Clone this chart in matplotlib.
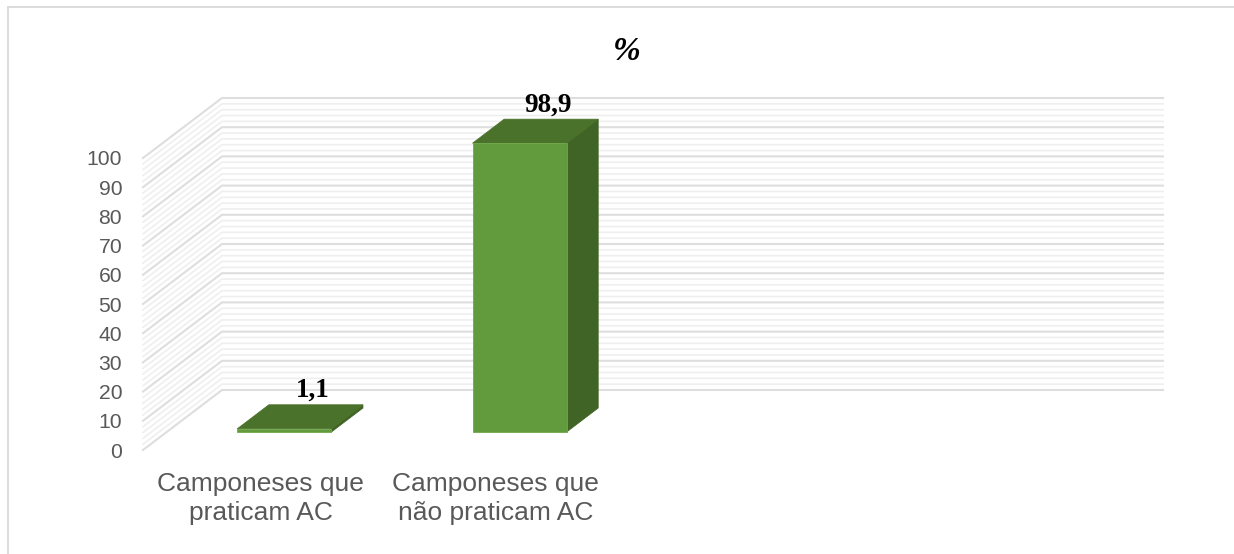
import matplotlib
matplotlib.use("Agg")
import matplotlib.pyplot as plt
from matplotlib.lines import Line2D
from matplotlib.patches import Polygon
import numpy as np

categories = ["Camponeses que\npraticam AC", "Camponeses que\nnão praticam AC"]
values = [1.1, 98.9]
value_labels = ["1,1", "98,9"]
y_ticks = [0, 10, 20, 30, 40, 50, 60, 70, 80, 90, 100]
title = "%"

W, H = 1234, 554
fig = plt.figure(figsize=(W / 100, H / 100), dpi=100, facecolor="white")
left, right, y0, y100 = 143, 1084, 450, 158
ax = fig.add_axes([left / W, 1 - y0 / H, (right - left) / W, (y0 - y100) / H])
ax.set_xlim(-0.5, 3.5)
ax.set_ylim(0, 100)
ax.patch.set_visible(False)
for s in ax.spines.values():
    s.set_visible(False)

# oblique projection of the 3-D chart: depth z in 0..1
DX = 79 / ((right - left) / 4)
DY = 60 / ((y0 - y100) / 100)


def proj(x, y, z):
    return (x + z * DX, y + z * DY)


MAJOR, MINOR = "#dedede", "#efefef"
for level in range(0, 101, 2):
    major = level % 10 == 0
    color, lw, zo = (MAJOR, 1.5, 2) if major else (MINOR, 1.2, 1)
    pts = [proj(-0.5, level, 0), proj(-0.5, level, 1), proj(3.5, level, 1)]
    ax.plot(*zip(*pts), color=color, lw=lw, zorder=zo, clip_on=False,
            solid_joinstyle="miter")

FRONT, TOP, SIDE = "#629a3e", "#4a722b", "#406426"
EDGE = "#6fa84a"
BAR_W = 94 / ((right - left) / 4)
Z1, Z2 = 0.30, 0.70
for i, v in enumerate(values):
    a, b = i - BAR_W / 2, i + BAR_W / 2
    faces = [
        ([proj(b, 0, Z1), proj(b, 0, Z2), proj(b, v, Z2), proj(b, v, Z1)], SIDE, SIDE),
        ([proj(a, v, Z1), proj(b, v, Z1), proj(b, v, Z2), proj(a, v, Z2)], TOP, TOP),
        ([proj(a, 0, Z1), proj(b, 0, Z1), proj(b, v, Z1), proj(a, v, Z1)], FRONT, EDGE),
    ]
    for pts, fc, ec in faces:
        ax.add_patch(Polygon(pts, closed=True, facecolor=fc, edgecolor=ec, lw=0.6,
                             zorder=5, clip_on=False))
    ax.annotate(value_labels[i], xy=proj(i, v, (Z1 + Z2) / 2), xytext=(9.4, 19),
                textcoords="offset points", ha="center", va="center",
                family="Liberation Serif", weight="bold", fontsize=19.5,
                color="black", zorder=6, annotation_clip=False)

ax.set_yticks(y_ticks)
ax.set_xticks(range(len(categories)))
ax.set_xticklabels(categories, family="Liberation Sans", fontsize=19,
                   color="#595959", linespacing=1.27)
ax.set_yticklabels([str(t) for t in y_ticks], family="Liberation Sans",
                   fontsize=15.2, color="#595959", va="center_baseline")
ax.tick_params(axis="both", length=0)
ax.tick_params(axis="y", pad=15)
ax.tick_params(axis="x", pad=15.5)

fig.text(627 / W, 1 - 52 / H, title, family="Liberation Serif", weight="bold",
         style="italic", fontsize=24, ha="center", va="center", color="black")

# chart frame
fig.add_artist(Line2D([7.5 / W, 7.5 / W], [0, 1 - 6.5 / H], color="#d9d9d9", lw=1.3))
fig.add_artist(Line2D([7.5 / W, 1], [1 - 6.5 / H, 1 - 6.5 / H], color="#d9d9d9", lw=1.3))

fig.savefig("out.png", dpi=100, facecolor="white")
